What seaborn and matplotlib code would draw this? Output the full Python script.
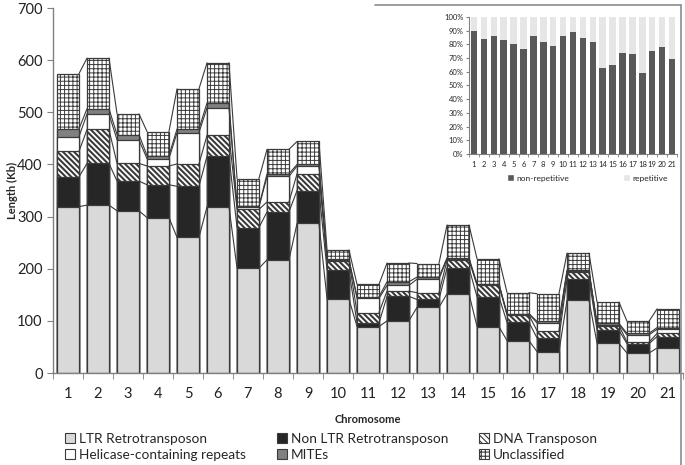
import numpy as np
import pandas as pd
import matplotlib
matplotlib.use('Agg')
import matplotlib.pyplot as plt
from matplotlib.patches import Patch
from matplotlib.lines import Line2D
import seaborn as sns

# DATA (Kb per chromosome)
chromosomes = [str(i) for i in range(1, 22)]
ltr = [319, 322, 311, 298, 260, 319, 201, 217, 287, 142, 89, 100, 126, 152, 89, 62, 41, 140, 57, 38, 48]
non_ltr = [57, 80, 57, 63, 98, 97, 78, 92, 63, 55, 7, 47, 15, 50, 57, 35, 26, 41, 25, 18, 22]
dna = [49, 65, 34, 36, 43, 40, 35, 19, 32, 18, 20, 10, 13, 14, 22, 14, 14, 13, 9, 3, 6]
helicase = [28, 30, 45, 14, 60, 53, 4, 49, 15, 2, 27, 11, 26, 3, 2, 2, 15, 2, 2, 14, 8]
mites = [15, 10, 10, 6, 7, 9, 2, 5, 3, 1, 3, 7, 4, 2, 1, 1, 3, 1, 2, 3, 3]
unclassified = [106, 97, 40, 46, 77, 77, 53, 47, 44, 18, 24, 36, 26, 63, 48, 40, 53, 33, 41, 23, 36]

# inset: share of non-repetitive sequence (%)
non_repetitive = [90, 84, 86, 83, 80, 77, 86, 82, 79, 86, 89, 85, 82, 63, 65, 74, 73, 59, 75, 78, 69]

# name, values, fill, hatch, hatch line width
layers = [
    ('LTR Retrotransposon', ltr, '#d9d9d9', None, 0),
    ('Non LTR Retrotransposon', non_ltr, '#262626', None, 0),
    ('DNA Transposon', dna, 'white', '\\' * 6, 1.5),
    ('Helicase-containing repeats', helicase, 'white', None, 0),
    ('MITEs', mites, '#808080', None, 0),
    ('Unclassified', unclassified, 'white', '++++', 0.7),
]

sns.set_style('white')
plt.rcParams['font.family'] = ['Lato', 'DejaVu Sans']
plt.rcParams['hatch.linewidth'] = 0.8
plt.rcParams['hatch.color'] = '#303030'

EDGE = '#3a3a3a'
BAR_W = 0.73

fig = plt.figure(figsize=(6.85, 4.65), dpi=100)
ax = fig.add_axes([53 / 685, 92 / 465, 630 / 685, 365 / 465])

df = pd.DataFrame({'chromosome': chromosomes})
cum = np.zeros(len(chromosomes))
tops = []
for name, vals, col, hatch, hlw in layers:
    cum = cum + np.array(vals)
    tops.append(cum.copy())

# draw cumulative bars from the top down so each lower layer covers the one above
for (name, vals, col, hatch, hlw), top in reversed(list(zip(layers, tops))):
    df['y'] = top
    n_before = len(ax.patches)
    sns.barplot(data=df, x='chromosome', y='y', color=col, width=BAR_W,
                edgecolor=EDGE, linewidth=0.9, saturation=1, ax=ax)
    for p in ax.patches[n_before:]:
        p.set_facecolor(col)
        if hatch:
            p.set_hatch(hatch)
            if hasattr(p, 'set_hatch_linewidth'):
                p.set_hatch_linewidth(hlw)

# series lines between neighbouring bars
xs = np.arange(len(chromosomes))
for top in tops:
    for i in range(len(xs) - 1):
        ax.plot([xs[i] + BAR_W / 2, xs[i + 1] - BAR_W / 2], [top[i], top[i + 1]],
                color=EDGE, lw=0.8, zorder=3)

ax.set_xlim(-0.5, len(chromosomes) - 0.5)
ax.set_ylim(0, 700)
ax.set_yticks(range(0, 701, 100))
ax.set_xticks(xs)
ax.set_xticklabels(chromosomes)
ax.set_xticks(np.arange(-0.5, len(chromosomes)), minor=True)
ax.tick_params(axis='x', which='major', length=0, labelsize=10.5, pad=10, colors='#222222')
ax.tick_params(axis='x', which='minor', length=4, color='#808080', direction='out', bottom=True)
ax.tick_params(axis='y', length=4, color='#808080', direction='out', left=True,
               labelsize=10.5, labelcolor='#222222')
for s in ['top', 'right']:
    ax.spines[s].set_visible(False)
for s in ['left', 'bottom']:
    ax.spines[s].set_color('#808080')
    ax.spines[s].set_linewidth(1)
ax.set_xlabel('Chromosome', fontsize=8, fontweight='bold')
ax.xaxis.set_label_coords(0.5, -41 / 365)
ax.set_ylabel('Length (Kb)', fontsize=8, fontweight='bold')
ax.yaxis.set_label_coords(-35 / 630, 0.5)

handles = {name: Patch(facecolor=col, edgecolor=EDGE, hatch=hatch, linewidth=0.8)
           for name, vals, col, hatch, hlw in layers}
order = ['LTR Retrotransposon', 'Helicase-containing repeats',
         'Non LTR Retrotransposon', 'MITEs', 'DNA Transposon', 'Unclassified']
fig.legend([handles[k] for k in order], order, ncol=3, frameon=False,
           loc='center left', bbox_to_anchor=(65 / 685, 1 - 447 / 465),
           fontsize=9.8, handlelength=0.75, handleheight=0.75, handletextpad=0.3,
           columnspacing=2.25, labelspacing=0.3, borderpad=0, borderaxespad=0)

# frame lines of the chart area
fig.add_artist(Line2D([681 / 685, 681 / 685], [0, 1 - 5 / 465], color='#8c8c8c', lw=1.2))
fig.add_artist(Line2D([375 / 685, 681 / 685], [1 - 5 / 465, 1 - 5 / 465], color='#8c8c8c', lw=1.2))

# INSET: repetitive vs non-repetitive share
ins = fig.add_axes([469 / 685, 1 - 154 / 465, 208 / 685, 137 / 465])
idf = pd.DataFrame({'chromosome': chromosomes, 'all': [100] * len(chromosomes),
                    'nonrep': non_repetitive})
sns.barplot(data=idf, x='chromosome', y='all', color='#e6e6e6', width=0.65,
            saturation=1, linewidth=0, ax=ins)
sns.barplot(data=idf, x='chromosome', y='nonrep', color='#595959', width=0.65,
            saturation=1, linewidth=0, ax=ins)
ins.set_xlim(-0.5, len(chromosomes) - 0.5)
ins.set_ylim(0, 100)
ins.set_yticks(range(0, 101, 10))
ins.set_yticklabels([f'{v}%' for v in range(0, 101, 10)])
ins.set_xticks(np.arange(-0.5, len(chromosomes)), minor=True)
ins.tick_params(axis='x', which='major', length=0, labelsize=5.5, pad=5)
ins.tick_params(axis='x', which='minor', length=2, color='#808080', bottom=True)
ins.tick_params(axis='y', length=2, color='#808080', left=True, labelsize=5.5, pad=2)
for s in ['top', 'right']:
    ins.spines[s].set_visible(False)
for s in ['left', 'bottom']:
    ins.spines[s].set_color('#808080')
    ins.spines[s].set_linewidth(0.8)
ins.set_xlabel('')
ins.set_ylabel('')
fig.legend([Patch(facecolor='#595959'), Patch(facecolor='#e6e6e6')],
           ['non-repetitive', 'repetitive'], ncol=2, frameon=False,
           loc='center left', bbox_to_anchor=(507 / 685, 1 - 178 / 465),
           fontsize=6, handlelength=0.8, handleheight=0.8, handletextpad=0.3,
           columnspacing=6.5, borderpad=0, borderaxespad=0)

fig.savefig('out.png', dpi=100)
